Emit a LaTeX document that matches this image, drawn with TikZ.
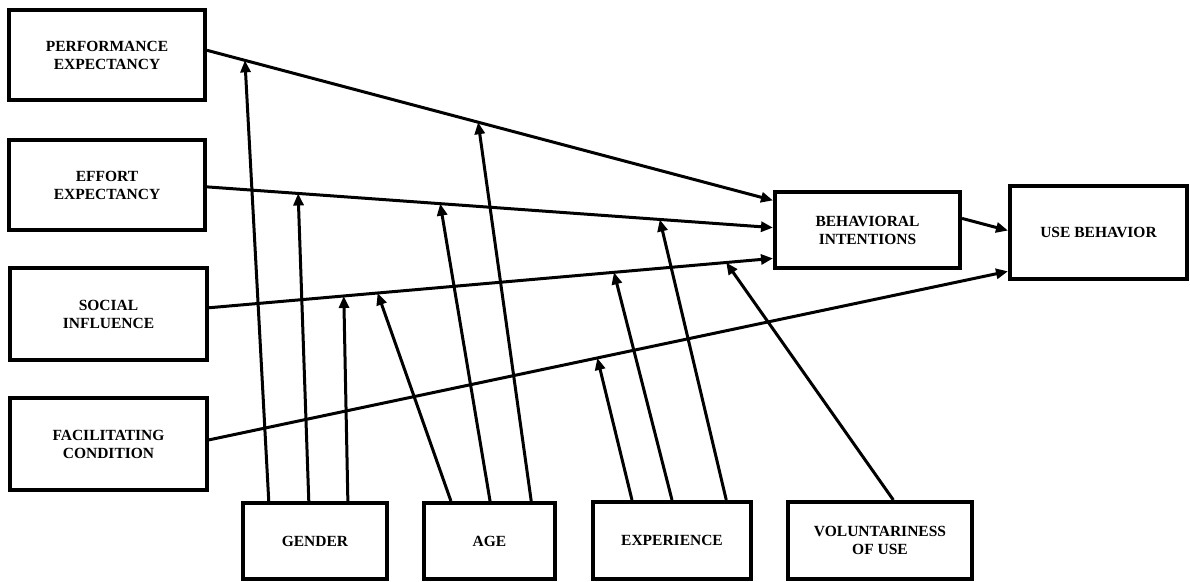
\documentclass[tikz,border=0pt]{standalone}
\usepackage{fontspec}
\setmainfont{Liberation Serif}
\usetikzlibrary{arrows.meta,calc}
\begin{document}
\begin{tikzpicture}[x=1pt,y=-1pt,
  box/.style={draw=black,line width=4pt,fill=white,inner sep=0pt,align=center,
    font=\fontsize{15.5}{18}\selectfont\bfseries},
  link/.style={line width=3pt,-{Triangle[length=12pt,width=10pt]}},
  modline/.style={line width=3pt,-{Triangle[length=12pt,width=10pt]}}]
\useasboundingbox (0,0) rectangle (1190,581);
\fill[white] (0,0) rectangle (1190,581);
% nodes
\node[box,minimum width=196pt,minimum height=90pt] (pe) at (107,55) {PERFORMANCE\\EXPECTANCY};
\node[box,minimum width=196pt,minimum height=90pt] (ee) at (107,185) {EFFORT\\EXPECTANCY};
\node[box,minimum width=197pt,minimum height=92pt] (si) at (108.5,314) {SOCIAL\\INFLUENCE};
\node[box,minimum width=197pt,minimum height=92pt] (fc) at (108.5,444) {FACILITATING\\CONDITION};
\node[box,minimum width=144pt,minimum height=76pt] (gen) at (315,541) {GENDER};
\node[box,minimum width=131pt,minimum height=76pt] (age) at (489.5,541) {AGE};
\node[box,minimum width=158pt,minimum height=77pt] (exp) at (672,540.5) {EXPERIENCE};
\node[box,minimum width=184pt,minimum height=77pt] (vol) at (880,540.5) {VOLUNTARINESS\\OF USE};
\node[box,minimum width=185pt,minimum height=76pt] (bi) at (867.5,230) {BEHAVIORAL\\INTENTIONS};
\node[box,minimum width=177pt,minimum height=93pt] (ub) at (1098.5,232.5) {USE BEHAVIOR};
% connector end points
\coordinate (peS) at ($(pe.north east)!0.45!(pe.south east)$);
\coordinate (eeS) at ($(ee.north east)!0.52!(ee.south east)$);
\coordinate (siS) at ($(si.north east)!0.435!(si.south east)$);
\coordinate (fcS) at ($(fc.north east)!0.457!(fc.south east)$);
\coordinate (bi1) at ($(bi.north west)!0.13!(bi.south west)$);
\coordinate (bi2) at ($(bi.north west)!0.47!(bi.south west)$);
\coordinate (bi3) at ($(bi.north west)!0.855!(bi.south west)$);
\coordinate (biS) at ($(bi.north east)!0.355!(bi.south east)$);
\coordinate (ub1) at ($(ub.north west)!0.48!(ub.south west)$);
\coordinate (ub2) at ($(ub.north west)!0.9!(ub.south west)$);
% main paths
\draw[link] (peS) -- (bi1);
\draw[link] (eeS) -- (bi2);
\draw[link] (siS) -- (bi3);
\draw[link] (fcS) -- (ub2);
\draw[link] (biS) -- (ub1);
% targets on paths
\coordinate (tg1) at ($(peS)!0.067!(bi1)$);
\coordinate (tg2) at ($(eeS)!0.161!(bi2)$);
\coordinate (tg3) at ($(siS)!0.239!(bi3)$);
\coordinate (ta1) at ($(siS)!0.299!(bi3)$);
\coordinate (ta2) at ($(eeS)!0.412!(bi2)$);
\coordinate (ta3) at ($(peS)!0.479!(bi1)$);
\coordinate (te1) at ($(fcS)!0.486!(ub2)$);
\coordinate (te2) at ($(siS)!0.718!(bi3)$);
\coordinate (te3) at ($(eeS)!0.8!(bi2)$);
\coordinate (tv1) at ($(siS)!0.917!(bi3)$);
% sources on moderators
\coordinate (sg1) at ($(gen.north west)!0.1875!(gen.north east)$);
\coordinate (sg2) at ($(gen.north west)!0.458!(gen.north east)$);
\coordinate (sg3) at ($(gen.north west)!0.722!(gen.north east)$);
\coordinate (sa1) at ($(age.north west)!0.214!(age.north east)$);
\coordinate (sa2) at ($(age.north west)!0.504!(age.north east)$);
\coordinate (sa3) at ($(age.north west)!0.809!(age.north east)$);
\coordinate (se1) at ($(exp.north west)!0.253!(exp.north east)$);
\coordinate (se2) at ($(exp.north west)!0.5!(exp.north east)$);
\coordinate (se3) at ($(exp.north west)!0.835!(exp.north east)$);
\coordinate (sv1) at ($(vol.north west)!0.571!(vol.north east)$);
% moderating arrows
\draw[modline] (sg1) -- (tg1);
\draw[modline] (sg2) -- (tg2);
\draw[modline] (sg3) -- (tg3);
\draw[modline] (sa1) -- (ta1);
\draw[modline] (sa2) -- (ta2);
\draw[modline] (sa3) -- (ta3);
\draw[modline] (se1) -- (te1);
\draw[modline] (se2) -- (te2);
\draw[modline] (se3) -- (te3);
\draw[modline] (sv1) -- (tv1);
\end{tikzpicture}
\end{document}
